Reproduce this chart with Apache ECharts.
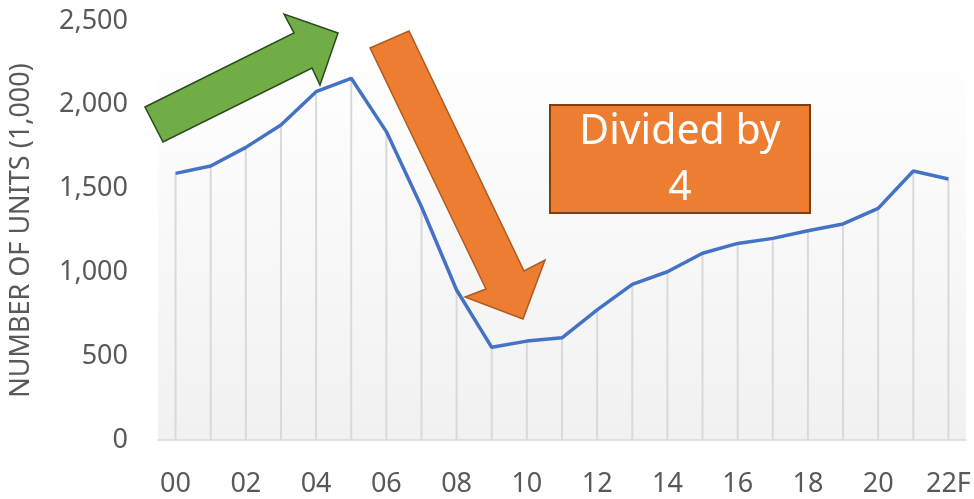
<!DOCTYPE html>
<html>
<head>
<meta charset="utf-8">
<script src="https://cdn.jsdelivr.net/npm/echarts@6/dist/echarts.min.js"></script>
<style>
  html, body { margin: 0; padding: 0; background: #fff; }
  #chart { width: 974px; height: 499px; }
</style>
</head>
<body>
<div id="chart"></div>
<script>
// years (last one is a forecast)
const years = ['00', '01', '02', '03', '04', '05', '06', '07', '08', '09', '10', '11',
  '12', '13', '14', '15', '16', '17', '18', '19', '20', '21', '22F']
// number of units, thousands
const units = [1591, 1635, 1746, 1879, 2078, 2158, 1840, 1392, 895, 553, 590, 610,
  776, 929, 1004, 1114, 1173, 1203, 1249, 1289, 1382, 1605, 1557]
const yTicks = [0, 500, 1000, 1500, 2000, 2500]

const chart = echarts.init(document.getElementById('chart'))

const labelFont = '"Noto Sans", "Open Sans", sans-serif'

const option = {
  animation: false,
  grid: {
    left: 157,
    right: 8,
    top: 21,
    bottom: 59,
    show: true,
    borderWidth: 0,
    backgroundColor: {
      type: 'linear',
      x: 0, y: 0, x2: 0, y2: 1,
      colorStops: [
        { offset: 0, color: '#ffffff' },
        { offset: 0.12, color: '#fefefe' },
        { offset: 1, color: '#f1f1f1' }
      ]
    }
  },
  xAxis: {
    type: 'category',
    data: years,
    boundaryGap: true,
    axisLine: { lineStyle: { color: '#d9d9d9', width: 1.5 } },
    axisTick: { show: false },
    axisLabel: {
      interval: 1,
      color: '#595959',
      fontSize: 27,
      fontFamily: labelFont,
      margin: 31
    }
  },
  yAxis: {
    type: 'value',
    min: yTicks[0],
    max: yTicks[yTicks.length - 1],
    interval: 500,
    name: 'NUMBER OF UNITS (1,000)',
    nameLocation: 'middle',
    nameRotate: 90,
    nameGap: 123,
    nameTextStyle: {
      color: '#595959',
      fontSize: 27,
      fontFamily: labelFont
    },
    axisLine: { show: false },
    axisTick: { show: false },
    splitLine: { show: false },
    axisLabel: {
      color: '#595959',
      fontSize: 27,
      fontFamily: labelFont,
      margin: 30,
      formatter: v => v.toLocaleString('en-US')
    }
  },
  series: [
    {
      // drop lines from each point down to the axis
      type: 'bar',
      data: units,
      barWidth: 2,
      itemStyle: { color: '#d9d9d9' },
      silent: true,
      z: 1
    },
    {
      type: 'line',
      data: units,
      symbol: 'none',
      lineStyle: { color: '#4472c4', width: 3.5 },
      z: 3
    }
  ],
  graphic: [
    {
      type: 'polygon',
      shape: {
        points: [[145, 107], [294, 33], [284, 14], [338, 33], [320, 85], [312, 68], [163, 142]]
      },
      style: { fill: '#70ad47', stroke: '#2b4a1c', lineWidth: 1.5 },
      z: 10
    },
    {
      type: 'polygon',
      shape: {
        points: [[370, 48], [409, 31], [524, 271], [545, 260], [523, 319], [465, 297], [486, 289]]
      },
      style: { fill: '#ed7d31', stroke: '#ae5a21', lineWidth: 1.5 },
      z: 10
    },
    {
      type: 'rect',
      shape: { x: 550, y: 105, width: 260, height: 108 },
      style: { fill: '#ed7d31', stroke: '#843c0c', lineWidth: 2 },
      z: 10
    },
    {
      type: 'text',
      x: 680,
      y: 160,
      style: {
        text: 'Divided by\n4',
        fill: '#ffffff',
        font: '41px "Noto Sans", "Open Sans", sans-serif',
        align: 'center',
        verticalAlign: 'middle',
        lineHeight: 56
      },
      z: 11
    }
  ]
}

chart.setOption(option)
</script>
</body>
</html>
